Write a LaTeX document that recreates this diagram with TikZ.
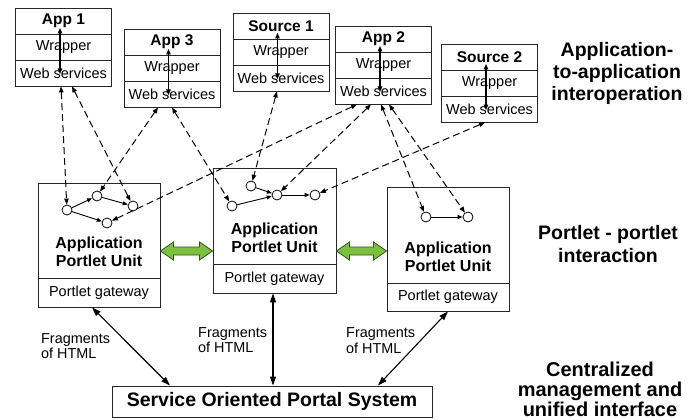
\documentclass[tikz,border=0pt]{standalone}
\usepackage{fontspec}
\setmainfont{Liberation Sans}
\usetikzlibrary{arrows.meta,calc}

\definecolor{linkgreen}{RGB}{125,192,62}
\definecolor{linkedge}{RGB}{55,80,30}

\tikzset{
  cell/.style={draw=black!85, line width=0.8pt, minimum width=96pt, minimum height=26pt,
    inner sep=0pt, font=\fontsize{14.5}{17}\selectfont},
  titlecell/.style={cell, font=\fontsize{15.5}{18}\selectfont\bfseries},
  unitbox/.style={draw=black!85, line width=0.9pt, inner sep=0pt},
  gatebox/.style={unitbox, font=\fontsize{14.5}{17}\selectfont},
  unitlabel/.style={align=center, inner sep=0pt, font=\fontsize{16}{18.5}\selectfont\bfseries},
  port/.style={circle, draw=black, line width=0.8pt, minimum size=10pt, inner sep=0pt, fill=white},
  innerarrow/.style={line width=1.2pt, {Triangle[length=5.5pt,width=4.5pt]}-{Triangle[length=5.5pt,width=4.5pt]}},
  flow/.style={line width=0.9pt, -{Triangle[length=5pt,width=4pt]}},
  call/.style={line width=1pt, dash pattern=on 7pt off 4pt,
    {Triangle[length=6pt,width=4.5pt]}-{Triangle[length=6pt,width=4.5pt]}},
  fragment/.style={line width=1.1pt, {Triangle[length=9pt,width=6pt]}-{Triangle[length=9pt,width=6pt]}},
  fraglabel/.style={align=left, inner sep=0pt, anchor=west, font=\fontsize{14.4}{15.5}\selectfont},
  layerlabel/.style={align=center, inner sep=0pt, font=\fontsize{19.5}{22}\selectfont\bfseries},
  greenarrow/.style={fill=linkgreen, draw=linkedge, line width=0.8pt, line join=miter}
}

% A service stack: title, wrapper and web-services cells
\newcommand{\servicestack}[4]{%
  \node[titlecell] (#1t) at (#2,#3+13) {#4};
  \node[cell] (#1w) at (#2,#3+39) {Wrapper};
  \node[cell] (#1s) at (#2,#3+65) {Web services};
  \draw[innerarrow] ([shift={(-3.5,7)}]#1t.center) -- ([shift={(-3.5,1)}]#1s.center);
}

\begin{document}
\begin{tikzpicture}[x=1pt,y=-1pt]
  \useasboundingbox (0,0) rectangle (699,420);
  \fill[white] (0,0) rectangle (699,420);

  % service stacks
  \servicestack{app1}{63.5}{8}{App 1}
  \servicestack{app3}{172}{29}{App 3}
  \servicestack{src1}{281}{13}{Source 1}
  \servicestack{app2}{383.5}{26}{App 2}
  \servicestack{src2}{489.5}{44}{Source 2}

  % portlet units
  \node[unitbox, minimum width=122pt, minimum height=95pt] (pl) at (99,230.5) {};
  \node[gatebox, minimum width=122pt, minimum height=29pt] (plg) at (99,292.5) {Portlet gateway};
  \node[unitlabel] (pltxt) at (99,252) {Application\\Portlet Unit};

  \node[unitbox, minimum width=123pt, minimum height=96pt] (pm) at (274.5,216) {};
  \node[gatebox, minimum width=123pt, minimum height=29pt] (pmg) at (274.5,278.5) {Portlet gateway};
  \node[unitlabel] (pmtxt) at (274.5,238) {Application\\Portlet Unit};

  \node[unitbox, minimum width=122pt, minimum height=96pt] (pr) at (448,235) {};
  \node[gatebox, minimum width=122pt, minimum height=28pt] (prg) at (448,297) {Portlet gateway};
  \node[unitlabel] (prtxt) at (448,257) {Application\\Portlet Unit};

  % ports inside the units
  \node[port] (cA) at (67,210) {};
  \node[port] (cB) at (97,196) {};
  \node[port] (cC) at (133,206) {};
  \node[port] (cD) at (107,223) {};
  \node[port] (cE) at (232,206) {};
  \node[port] (cF) at (251,186) {};
  \node[port] (cG) at (277,195) {};
  \node[port] (cH) at (315,195) {};
  \node[port] (cI) at (426,217) {};
  \node[port] (cJ) at (468,217) {};

  \draw[flow] (cA) -- (cB);
  \draw[flow] (cB) -- (cC);
  \draw[flow] (cA) -- (cD);
  \draw[flow] (cE) -- (cG);
  \draw[flow] (cF) -- (cG);
  \draw[flow] (cG) -- (cH);
  \draw[flow] (cI) -- (cJ);

  % web-service calls
  \draw[call] ([xshift=-2.5pt]app1s.south) -- (cA);
  \draw[call] ([xshift=8.5pt]app1s.south) -- (cC);
  \draw[call] ([xshift=-14pt]app3s.south) -- (cB);
  \draw[call] (app3s.south) -- (cE);
  \draw[call] ([xshift=-4pt]src1s.south) -- (cF);
  \draw[call] ([xshift=-26.5pt]app2s.south) -- (cD);
  \draw[call] ([xshift=-12.5pt]app2s.south) -- (cG);
  \draw[call] ([xshift=-2.5pt]app2s.south) -- (cI);
  \draw[call] ([xshift=5.5pt]app2s.south) -- (cJ);
  \draw[call] ([xshift=-4.5pt]src2s.south) -- (cH);

  % portlet-portlet links
  \coordinate (gy) at (0,251);
  \coordinate (g1a) at (pl.east |- gy);
  \coordinate (g1b) at (pm.west |- gy);
  \coordinate (g2a) at (pm.east |- gy);
  \coordinate (g2b) at (pr.west |- gy);
  \draw[greenarrow] (g1a) -- ++(13,-9) -- ++(0,5) -- ($(g1b)+(-13,-4)$) -- ++(0,-5) -- (g1b)
    -- ++(-13,9) -- ++(0,-5) -- ($(g1a)+(13,4)$) -- ++(0,5) -- cycle;
  \draw[greenarrow] (g2a) -- ++(13,-9) -- ++(0,5) -- ($(g2b)+(-13,-4)$) -- ++(0,-5) -- (g2b)
    -- ++(-13,9) -- ++(0,-5) -- ($(g2a)+(13,4)$) -- ++(0,5) -- cycle;

  % portal system
  \node[draw=black!85, line width=1pt, minimum width=320pt, minimum height=31pt, inner sep=0pt,
    font=\fontsize{19.5}{22}\selectfont\bfseries] (sys) at (272,401.5) {Service Oriented Portal System};

  \draw[fragment] ([xshift=-7pt]plg.south) -- ([xshift=-102pt]sys.north);
  \draw[fragment] ([xshift=-1.5pt]pmg.south) -- ([xshift=-1.5pt]pmg.south |- sys.north);
  \draw[fragment] (prg.south) -- ([xshift=106pt]sys.north);

  \node[fraglabel] (f1) at (41,346) {Fragments\\of HTML};
  \node[fraglabel] (f2) at (198,340) {Fragments\\of HTML};
  \node[fraglabel] (f3) at (346,340.5) {Fragments\\of HTML};

  % layer captions
  \node[layerlabel] (l1) at (617,73) {Application-\\to-application\\interoperation};
  \node[layerlabel, font=\fontsize{19.5}{23}\selectfont\bfseries] (l2) at (608,244) {Portlet - portlet\\interaction};
  \node[layerlabel, font=\fontsize{20}{20}\selectfont\bfseries] (l3) at (600,389) {Centralized\\management and\\unified interface};
\end{tikzpicture}
\end{document}
